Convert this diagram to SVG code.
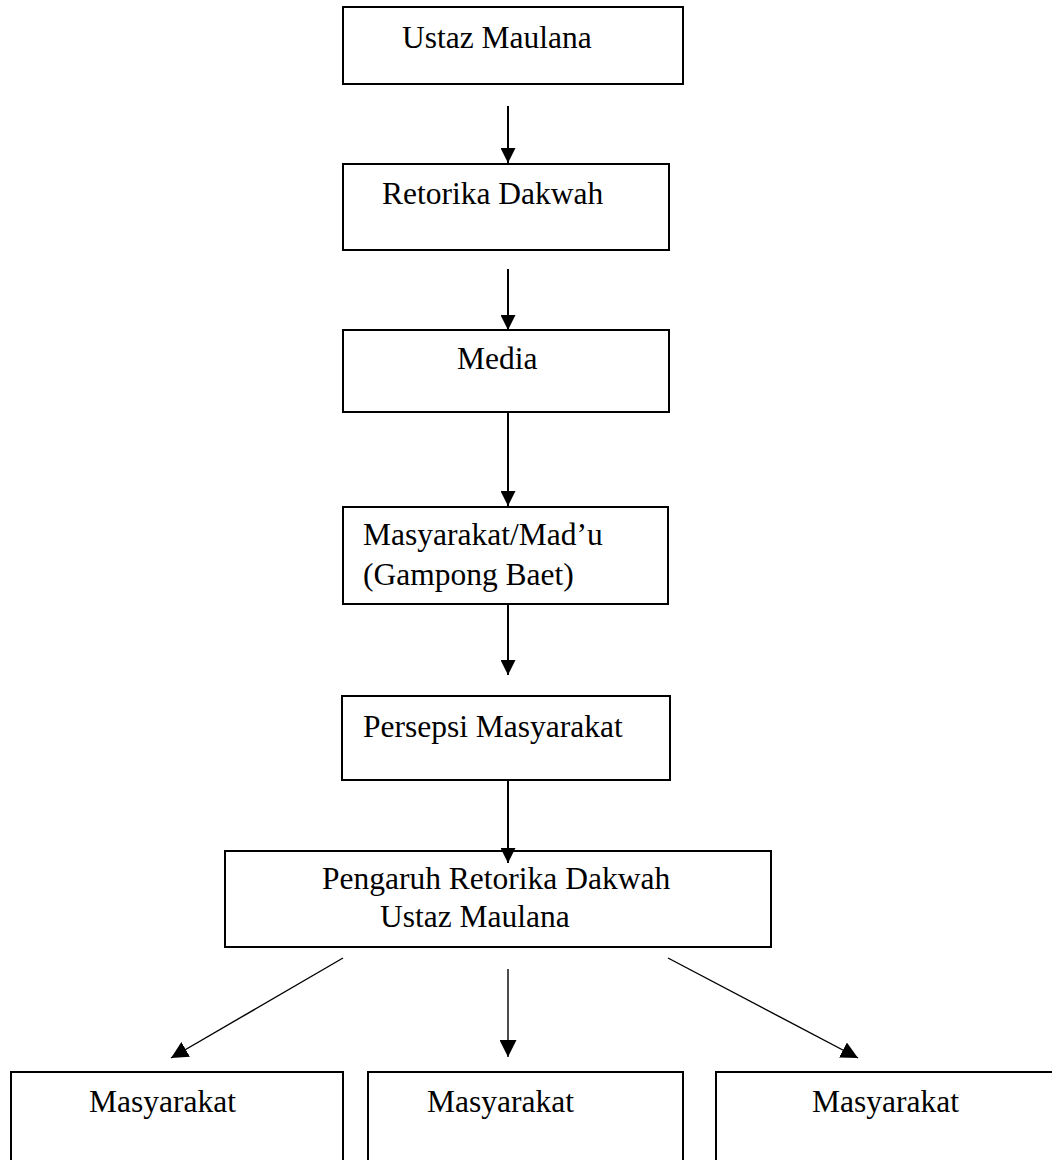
<svg xmlns="http://www.w3.org/2000/svg" width="1052" height="1160" viewBox="0 0 1052 1160">
<style>
.box{fill:#fff;stroke:#000;stroke-width:2}
.t{font-family:"Liberation Serif","Times New Roman",serif;font-size:31.5px;fill:#000}
.c{stroke:#000;stroke-width:2;fill:none}
.c2{stroke:#000;stroke-width:1.4;fill:none}
</style>
<defs>
<marker id="ah" markerUnits="userSpaceOnUse" markerWidth="15" markerHeight="15" refX="15" refY="7.5" orient="auto" viewBox="0 0 15 15">
<path d="M0,0 L15,7.5 L0,15 z" fill="#000"/>
</marker>
<marker id="ah2" markerUnits="userSpaceOnUse" markerWidth="17" markerHeight="17" refX="17" refY="8.5" orient="auto" viewBox="0 0 17 17">
<path d="M0,0 L17,8.5 L0,17 z" fill="#000"/>
</marker>
</defs>
<rect width="1052" height="1160" fill="#fff"/>
<g id="n1"><rect class="box" x="343" y="7" width="340" height="77"/><text class="t" x="402" y="48">Ustaz Maulana</text></g>
<g id="n2"><rect class="box" x="343" y="164" width="326" height="86"/><text class="t" x="382" y="204">Retorika Dakwah</text></g>
<g id="n3"><rect class="box" x="343" y="330" width="326" height="82"/><text class="t" x="457" y="369">Media</text></g>
<g id="n4"><rect class="box" x="343" y="507" width="325" height="97"/><text class="t" x="363" y="545">Masyarakat/Mad’u</text><text class="t" x="363" y="585">(Gampong Baet)</text></g>
<g id="n5"><rect class="box" x="342" y="696" width="328" height="84"/><text class="t" x="363" y="737">Persepsi Masyarakat</text></g>
<g id="n6"><rect class="box" x="225" y="851" width="546" height="96"/><text class="t" x="322" y="889">Pengaruh Retorika Dakwah</text><text class="t" x="380" y="927">Ustaz Maulana</text></g>
<g id="n7"><rect class="box" x="11" y="1072" width="332" height="100"/><text class="t" x="89" y="1112">Masyarakat</text></g>
<g id="n8"><rect class="box" x="368" y="1072" width="315" height="100"/><text class="t" x="427" y="1112">Masyarakat</text></g>
<g id="n9"><rect class="box" x="716" y="1072" width="345" height="100"/><text class="t" x="812" y="1112">Masyarakat</text></g>
<g id="connectors">
<line class="c" x1="508" y1="106" x2="508" y2="163" marker-end="url(#ah)"/>
<line class="c" x1="508" y1="269" x2="508" y2="330" marker-end="url(#ah)"/>
<line class="c" x1="508" y1="412" x2="508" y2="506" marker-end="url(#ah)"/>
<line class="c" x1="508" y1="604" x2="508" y2="675" marker-end="url(#ah)"/>
<line class="c" x1="508" y1="780" x2="508" y2="863" marker-end="url(#ah)"/>
<line class="c2" x1="343" y1="958" x2="171" y2="1058" marker-end="url(#ah2)"/>
<line class="c2" x1="508" y1="969" x2="508" y2="1057" marker-end="url(#ah2)"/>
<line class="c2" x1="668" y1="958" x2="858" y2="1058" marker-end="url(#ah2)"/>
</g>
</svg>
